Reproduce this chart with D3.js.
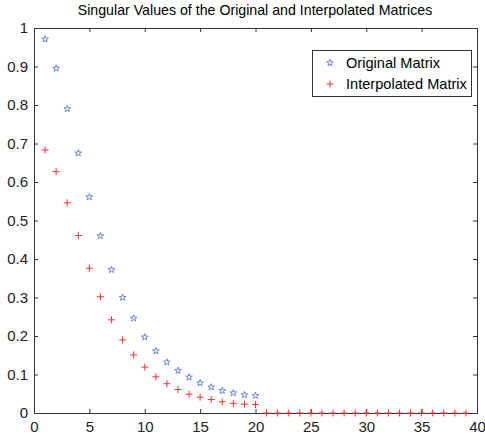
<!DOCTYPE html>
<html><head><meta charset="utf-8">
<script src="https://cdn.jsdelivr.net/npm/d3@7"></script>
<style>body{margin:0;background:#fff;}svg{display:block;}</style>
</head><body><svg id="c" width="485" height="438"></svg>
<script>
const title = "Singular Values of the Original and Interpolated Matrices";
const seriesNames = ["Original Matrix", "Interpolated Matrix"];
const originalX = [1,2,3,4,5,6,7,8,9,10,11,12,13,14,15,16,17,18,19,20];
const originalY = [0.971,0.895,0.790,0.675,0.561,0.460,0.372,0.300,0.246,0.197,0.161,0.132,0.110,0.093,0.078,0.067,0.058,0.052,0.047,0.045];
const interpX = [1,2,3,4,5,6,7,8,9,10,11,12,13,14,15,16,17,18,19,20,21,22,23,24,25,26,27,28,29,30,31,32,33,34,35,36,37,38,39];
const interpY = [0.683,0.627,0.546,0.461,0.376,0.302,0.242,0.190,0.151,0.119,0.094,0.076,0.061,0.049,0.041,0.035,0.029,0.025,0.023,0.022,0,0,0,0,0,0,0,0,0,0,0,0,0,0,0,0,0,0,0];
const xTicks = [0,5,10,15,20,25,30,35,40];
const yTicks = [0,0.1,0.2,0.3,0.4,0.5,0.6,0.7,0.8,0.9,1];

const svg = d3.select("#c");
const L = 34, R = 477, T = 28, B = 413;
const x = d3.scaleLinear().domain([0,40]).range([L,R]);
const y = d3.scaleLinear().domain([0,1]).range([B,T]);
const axisColor = "#333";
const font = "'Liberation Sans', Arial, sans-serif";

svg.append("text").attr("x", 255).attr("y", 15).attr("text-anchor","middle")
  .attr("font-family", font).attr("font-size", 14.2).attr("fill","#000").text(title);

function styleAxis(g){
  g.select(".domain").remove();
  g.selectAll("line").attr("stroke", axisColor);
  g.selectAll("text").attr("font-family", font).attr("font-size", 15).attr("fill","#222");
}
svg.append("g").attr("transform",`translate(0,${B})`)
  .call(d3.axisBottom(x).tickValues(xTicks).tickSize(-4).tickPadding(8).tickFormat(d3.format("d")))
  .call(styleAxis);
svg.append("g").attr("transform",`translate(0,${T})`)
  .call(d3.axisTop(x).tickValues(xTicks).tickSize(-4).tickFormat(""))
  .call(styleAxis);
svg.append("g").attr("transform",`translate(${L},0)`)
  .call(d3.axisLeft(y).tickValues(yTicks).tickSize(-4).tickPadding(6).tickFormat(d => d3.format("")(+d.toFixed(1))))
  .call(styleAxis);
svg.append("g").attr("transform",`translate(${R},0)`)
  .call(d3.axisRight(y).tickValues(yTicks).tickSize(-4).tickFormat(""))
  .call(styleAxis);
svg.append("rect").attr("x",L+0.5).attr("y",T+0.5).attr("width",R-L).attr("height",B-T)
  .attr("fill","none").attr("stroke",axisColor).attr("stroke-width",1);

const blue = "#4a6cc8", red = "#ff3030";
const star = d3.symbol().type(d3.symbolStar).size(14);
const plusPath = "M-3.5,0H3.5M0,-3.5V3.5";

svg.append("g").selectAll("path").data(originalX.map((d,i)=>[d,originalY[i]])).join("path")
  .attr("d", star).attr("transform", d=>`translate(${x(d[0])},${y(d[1])})`)
  .attr("fill","none").attr("stroke",blue).attr("stroke-width",0.8);
svg.append("g").selectAll("path").data(interpX.map((d,i)=>[d,interpY[i]])).join("path")
  .attr("d", plusPath).attr("transform", d=>`translate(${x(d[0])},${y(d[1])})`)
  .attr("fill","none").attr("stroke",red).attr("stroke-width",1);

// legend
const lg = svg.append("g");
lg.append("rect").attr("x",312.5).attr("y",50.5).attr("width",159).attr("height",46)
  .attr("fill","#fff").attr("stroke",axisColor);
lg.append("path").attr("d",star).attr("transform","translate(330,63)")
  .attr("fill","none").attr("stroke",blue).attr("stroke-width",0.8);
lg.append("path").attr("d",plusPath).attr("transform","translate(330,84)")
  .attr("fill","none").attr("stroke",red);
lg.append("text").attr("x",346).attr("y",68).attr("font-family",font).attr("font-size",14.6).text(seriesNames[0]);
lg.append("text").attr("x",346).attr("y",89).attr("font-family",font).attr("font-size",14.6).text(seriesNames[1]);
</script></body></html>
